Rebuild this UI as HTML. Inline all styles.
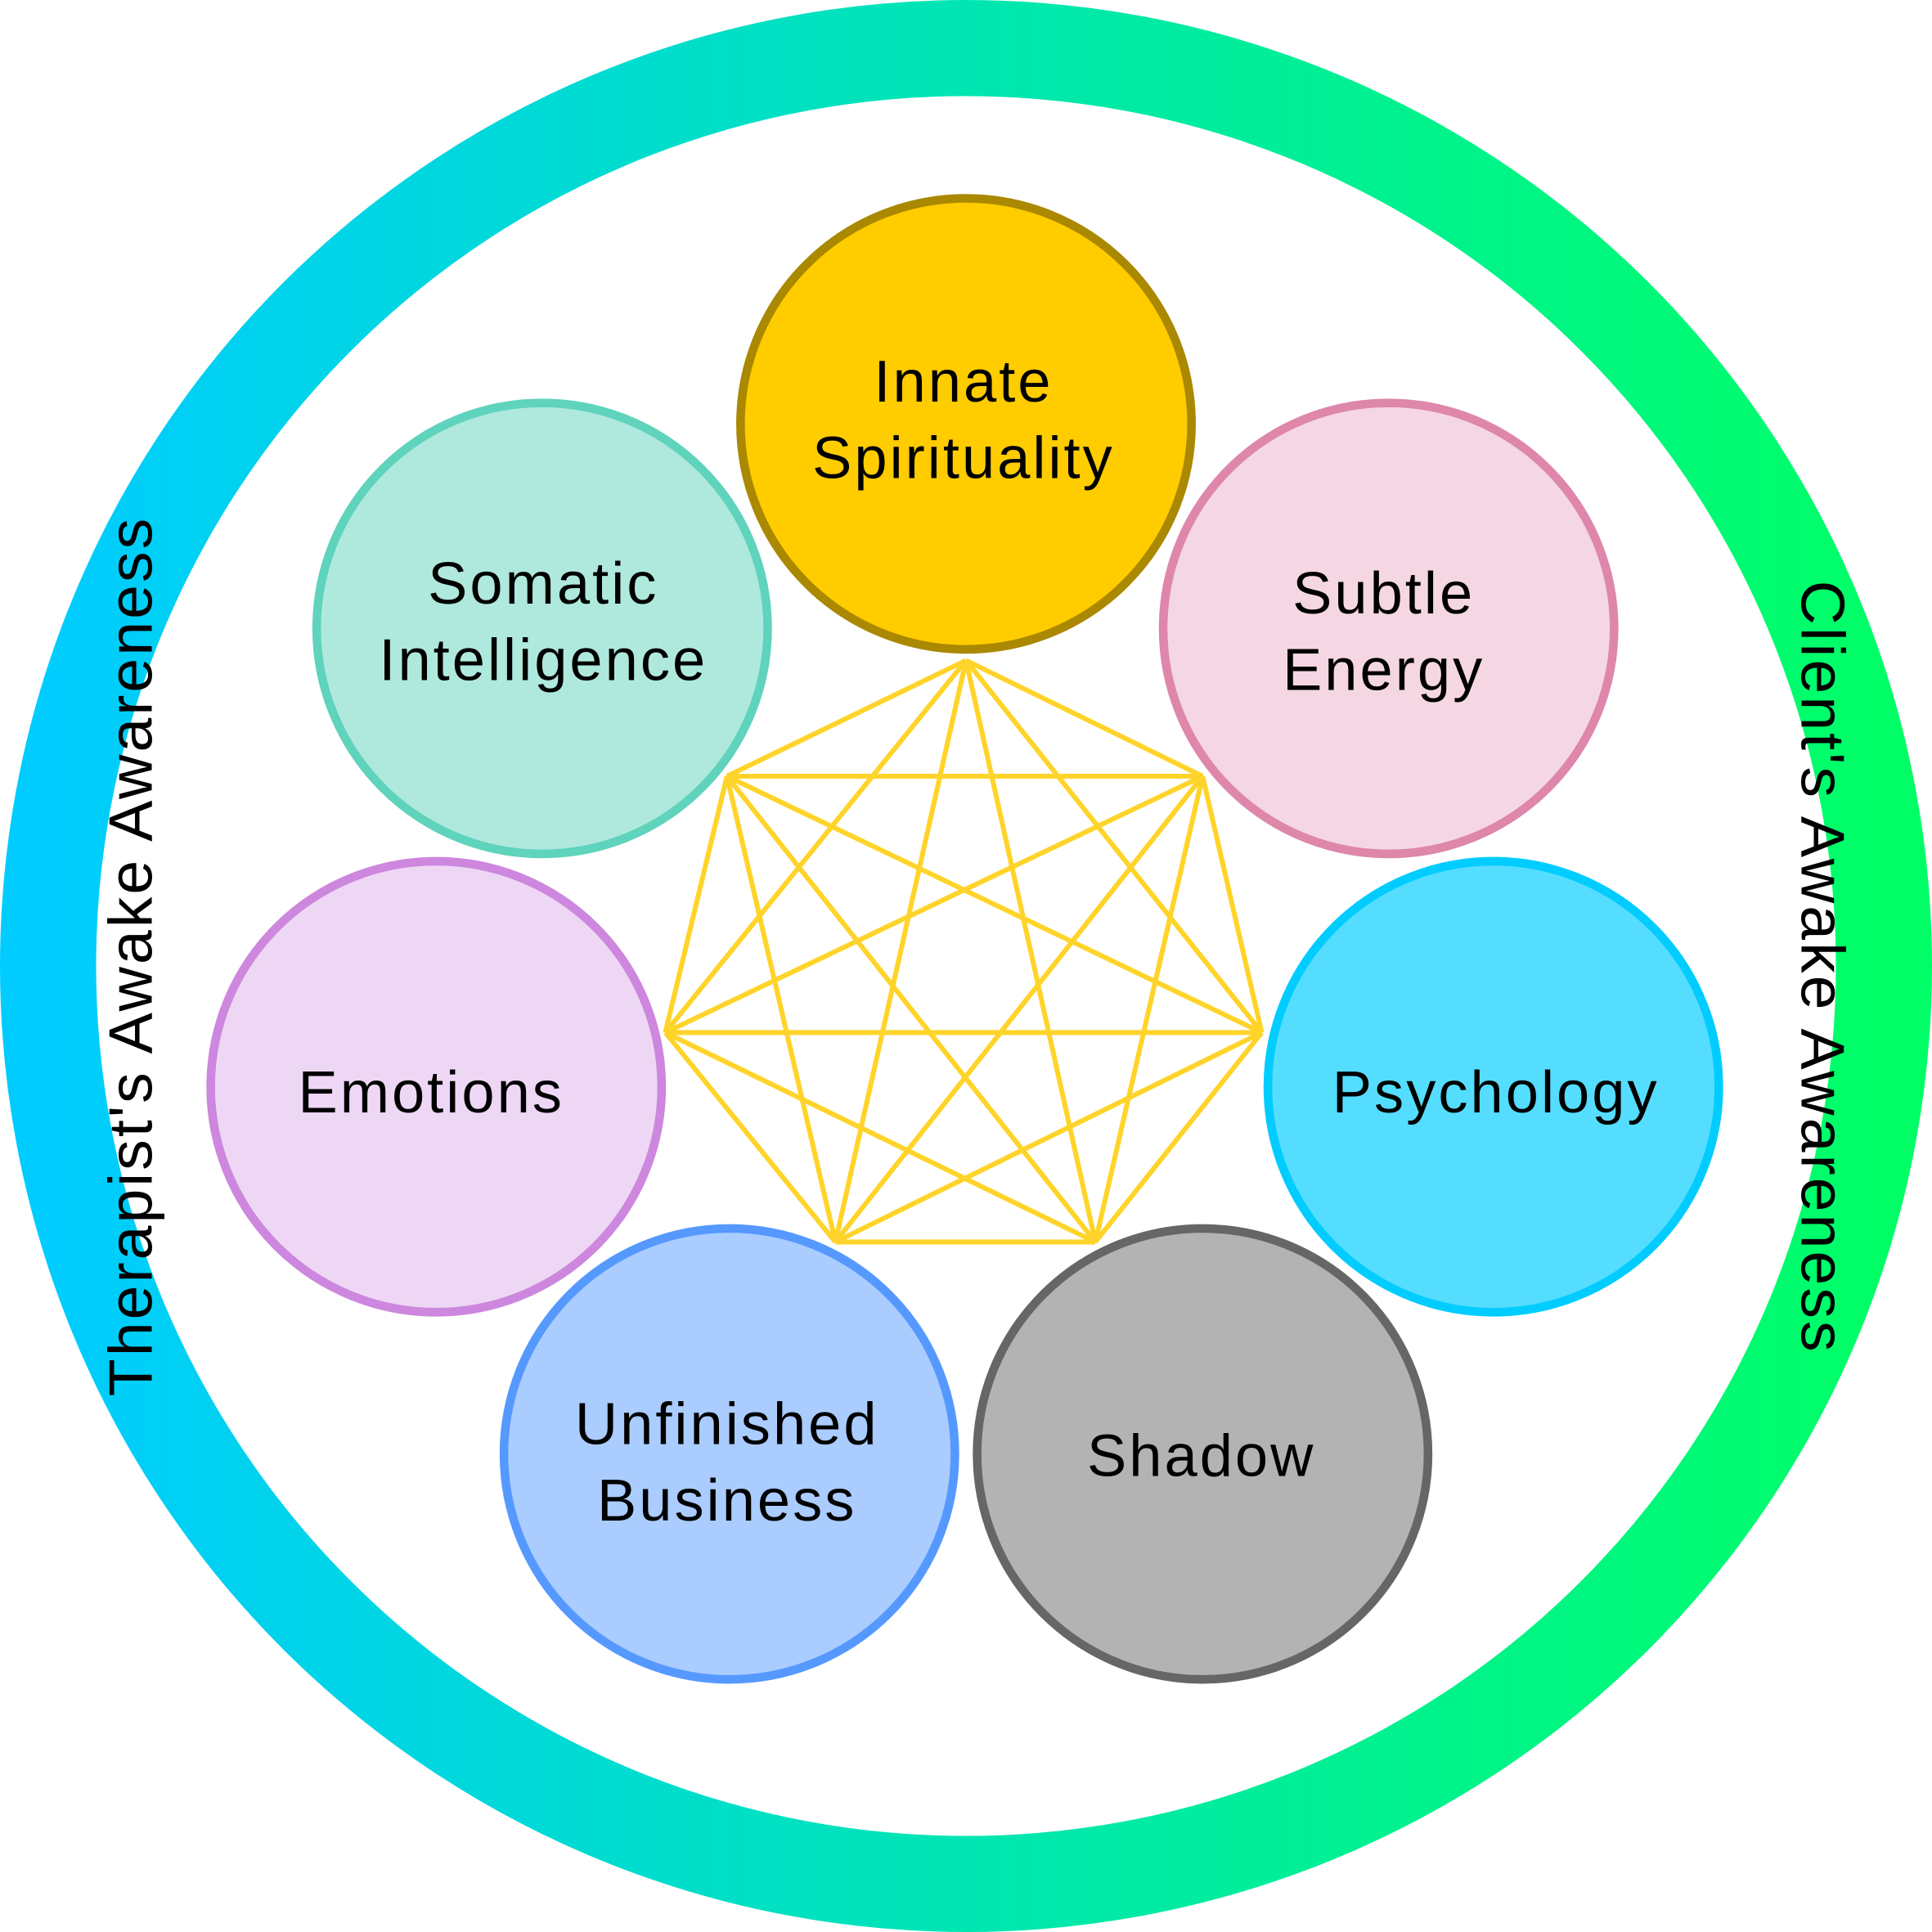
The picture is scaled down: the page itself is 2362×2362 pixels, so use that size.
<!DOCTYPE html>
<html><head><meta charset="utf-8"><style>html,body{margin:0;padding:0;background:#fff}svg{display:block}</style></head>
<body>
<svg width="2362" height="2362" viewBox="0 0 1568 1568" xmlns="http://www.w3.org/2000/svg" font-family="'Liberation Sans', 'DejaVu Sans', sans-serif">
<defs><linearGradient id="g" x1="0" x2="1" y1="0" y2="0"><stop offset="0" stop-color="#00ccff"/><stop offset="1" stop-color="#00ff66"/></linearGradient></defs>
<rect width="1568" height="1568" fill="#fff"/>
<circle cx="784" cy="784" r="745" fill="none" stroke="url(#g)" stroke-width="78"/>
<g stroke="#ffd42a" stroke-width="4" fill="none" stroke-linejoin="round">
<path d="M784,536L976,630M784,536L1024,838M784,536L889,1008M784,536L678,1008M784,536L540,838M784,536L590,630
M976,630L1024,838M976,630L889,1008M976,630L678,1008M976,630L540,838M976,630L590,630
M1024,838L889,1008M1024,838L678,1008M1024,838L540,838M1024,838L590,630
M889,1008L678,1008M889,1008L540,838M889,1008L590,630
M678,1008L540,838M678,1008L590,630
M540,838L590,630"/>
</g>
<g stroke-width="7">
<circle cx="784" cy="344" r="183" fill="#ffcc00" stroke="#aa8800"/>
<circle cx="1127" cy="510" r="183" fill="#f4d7e3" stroke="#de87aa"/>
<circle cx="1212" cy="882" r="183" fill="#55ddff" stroke="#00ccff"/>
<circle cx="976" cy="1180" r="183" fill="#b3b3b3" stroke="#666666"/>
<circle cx="592" cy="1180" r="183" fill="#aaccff" stroke="#5599ff"/>
<circle cx="354" cy="882" r="183" fill="#eed7f4" stroke="#cd87de"/>
<circle cx="440" cy="510" r="183" fill="#afe9dd" stroke="#5fd3bc"/>
</g>
<g font-size="48" text-anchor="middle" fill="#000" letter-spacing="2">
<text x="782" y="326">Innate</text><text x="782" y="388">Spirituality</text>
<text x="1123" y="498">Subtle</text><text x="1123" y="560">Energy</text>
<text x="1214" y="903">Psychology</text>
<text x="975" y="1198">Shadow</text>
<text x="590" y="1172">Unfinished</text><text x="590" y="1234">Business</text>
<text x="350" y="903">Emotions</text>
<text x="441" y="490">Somatic</text><text x="441" y="552">Intelligence</text>
<text font-size="50" transform="translate(123,776) rotate(-90)">Therapist's Awake Awareness</text>
<text font-size="50" transform="translate(1462,785) rotate(90)">Client's Awake Awareness</text>
</g>
</svg>
</body></html>
